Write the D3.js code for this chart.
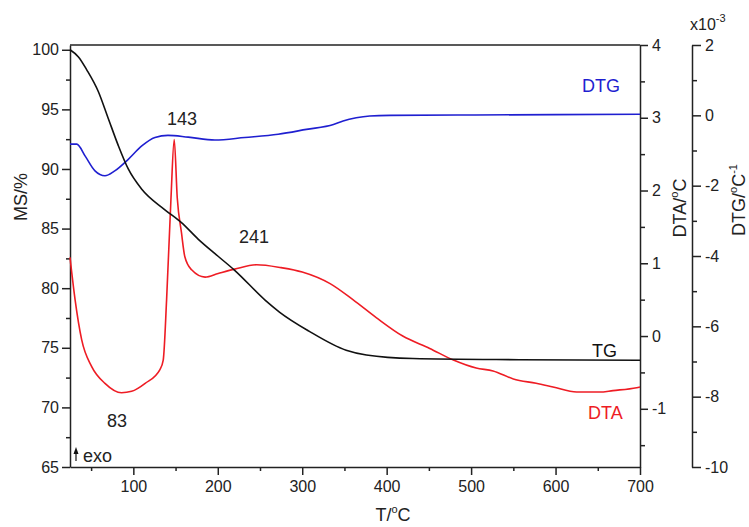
<!DOCTYPE html>
<html>
<head>
<meta charset="utf-8">
<script src="https://cdn.jsdelivr.net/npm/d3@7"></script>
<style>
  body { margin: 0; background: #fff; }
  svg { font-family: "Liberation Sans", Arial, sans-serif; }
  .tick text { font-size: 16px; fill: #222; }
  .domain, .tick line { stroke: #222; stroke-width: 1.5; }
</style>
</head>
<body>
<div id="chart"></div>
<script>
// TG curve (mass, %)
const tgT = [25, 35, 45, 58.5, 70, 82, 94, 110, 137, 157, 177, 200, 220, 256, 273, 308, 352, 376, 431, 557, 700];
const tgV = [100, 99.4, 98.3, 96.5, 94.3, 92.0, 90.0, 88.3, 86.6, 85.5, 84.1, 82.7, 81.5, 79.0, 78.0, 76.4, 74.8, 74.4, 74.1, 74.0, 73.95];

// DTA curve (°C)
const dtaT = [25, 31, 38.8, 50.7, 66.4, 86, 98, 114, 131.5, 135.4, 139.4, 144.5, 148.4, 152, 157, 161, 169, 185, 200.5, 220, 246, 275, 300, 333, 360, 388, 419, 451, 479, 506, 526, 550, 577, 597, 625, 652, 668, 696, 700];
const dtaV = [1.08, 0.5, -0.05, -0.42, -0.65, -0.78, -0.76, -0.65, -0.46, -0.33, 0.5, 1.87, 2.70, 1.9, 1.42, 1.09, 0.91, 0.81, 0.86, 0.92, 0.98, 0.94, 0.88, 0.72, 0.50, 0.25, 0.0, -0.17, -0.33, -0.44, -0.48, -0.59, -0.65, -0.70, -0.77, -0.77, -0.75, -0.71, -0.70];

// DTG curve (x10^-3 /°C)
const dtgT = [25, 33, 43, 54.6, 66.4, 78, 94, 110, 125.6, 141, 165, 196.6, 232, 271.5, 305, 337, 348.4, 364, 380, 404, 500, 600, 700];
const dtgV = [-0.82, -0.82, -1.16, -1.58, -1.72, -1.58, -1.25, -0.87, -0.63, -0.57, -0.62, -0.70, -0.63, -0.54, -0.40, -0.26, -0.16, -0.07, -0.02, 0, 0.01, 0.02, 0.03];

const xTicks = [100, 200, 300, 400, 500, 600, 700];
const msTicks = [65, 70, 75, 80, 85, 90, 95, 100];
const dtaTicks = [-1, 0, 1, 2, 3, 4];
const dtgTicks = [-10, -8, -6, -4, -2, 0, 2];

const width = 749, height = 527;
const pLeft = 70, pRight = 640, pTop = 45, pBottom = 467, dtgX = 692;

const svg = d3.select("#chart").append("svg")
    .attr("width", width)
    .attr("height", height);

const x = d3.scaleLinear().domain([25, 700]).range([pLeft, pRight]);
const yMS = d3.scaleLinear().domain([65, 100.4]).range([pBottom, pTop]);
const yDTA = d3.scaleLinear().domain([-1.8, 4]).range([pBottom, pTop]);
const yDTG = d3.scaleLinear().domain([-10, 2]).range([pBottom, pTop]);

const fmt = d => String(d);

// minor ticks
function minor(g) { g.select(".domain").remove(); g.selectAll("text").remove(); }

svg.append("g").attr("transform", `translate(0,${pBottom})`)
    .call(d3.axisBottom(x).tickValues(d3.range(50, 700, 100)).tickSize(4).tickFormat(""))
    .call(minor);
svg.append("g").attr("transform", `translate(${pLeft},0)`)
    .call(d3.axisLeft(yMS).tickValues(d3.range(67.5, 100, 5)).tickSize(4).tickFormat(""))
    .call(minor);
svg.append("g").attr("transform", `translate(${pRight},0)`)
    .call(d3.axisRight(yDTA).tickValues(d3.range(-1.5, 4, 1)).tickSize(5).tickFormat(""))
    .call(minor);
svg.append("g").attr("transform", `translate(${dtgX},0)`)
    .call(d3.axisRight(yDTG).tickValues(d3.range(-9, 2, 2)).tickSize(5).tickFormat(""))
    .call(minor);

// major axes
svg.append("g").attr("transform", `translate(0,${pBottom})`)
    .call(d3.axisBottom(x).tickValues(xTicks).tickFormat(fmt).tickSize(8).tickSizeOuter(0).tickPadding(6));
svg.append("g").attr("transform", `translate(${pLeft},0)`)
    .call(d3.axisLeft(yMS).tickValues(msTicks).tickFormat(fmt).tickSize(8).tickSizeOuter(0).tickPadding(3));
svg.append("g").attr("transform", `translate(${pRight},0)`)
    .call(d3.axisRight(yDTA).tickValues(dtaTicks).tickFormat(fmt).tickSize(8).tickSizeOuter(0).tickPadding(4));
svg.append("g").attr("transform", `translate(${dtgX},0)`)
    .call(d3.axisRight(yDTG).tickValues(dtgTicks).tickFormat(fmt).tickSize(9).tickSizeOuter(0).tickPadding(4));

// top frame
svg.append("line")
    .attr("x1", pLeft).attr("x2", pRight).attr("y1", pTop).attr("y2", pTop)
    .attr("stroke", "#222").attr("stroke-width", 1.5);

function drawLine(ts, vs, y, color) {
    const pts = ts.map((t, i) => [t, vs[i]]);
    svg.append("path")
        .datum(pts)
        .attr("fill", "none")
        .attr("stroke", color)
        .attr("stroke-width", 1.6)
        .attr("d", d3.line().x(d => x(d[0])).y(d => y(d[1])).curve(d3.curveMonotoneX));
}

drawLine(dtgT, dtgV, yDTG, "#1f1fd0");
drawLine(dtaT, dtaV, yDTA, "#ee1c24");
drawLine(tgT, tgV, yMS, "#111");

// axis titles
svg.append("text")
    .attr("transform", "translate(22,197) rotate(-90)")
    .attr("text-anchor", "middle").attr("dominant-baseline", "middle")
    .attr("font-size", 18).attr("fill", "#222")
    .text("MS/%");

const tx = svg.append("text")
    .attr("x", 393).attr("y", 521)
    .attr("text-anchor", "middle")
    .attr("font-size", 18).attr("fill", "#222");
tx.append("tspan").text("T/");
tx.append("tspan").attr("font-size", 11).attr("dy", -8).text("o");
tx.append("tspan").attr("dy", 8).text("C");

const ta = svg.append("text")
    .attr("transform", "translate(686,208) rotate(-90)")
    .attr("text-anchor", "middle")
    .attr("font-size", 18).attr("fill", "#222");
ta.append("tspan").text("DTA/");
ta.append("tspan").attr("font-size", 11).attr("dy", -8).text("o");
ta.append("tspan").attr("dy", 8).text("C");

const tg = svg.append("text")
    .attr("transform", "translate(745,200) rotate(-90)")
    .attr("text-anchor", "middle")
    .attr("font-size", 18).attr("fill", "#222");
tg.append("tspan").text("DTG/");
tg.append("tspan").attr("font-size", 11).attr("dy", -8).text("o");
tg.append("tspan").attr("dy", 8).text("C");
tg.append("tspan").attr("font-size", 11).attr("dy", -8).text("-1");

const sc = svg.append("text")
    .attr("x", 690).attr("y", 30)
    .attr("font-size", 16).attr("fill", "#222");
sc.append("tspan").text("x10");
sc.append("tspan").attr("font-size", 11).attr("dy", -8).text("-3");

// annotations
const notes = [
    { t: "143", x: 182, y: 125, c: "#222", a: "middle" },
    { t: "241", x: 254, y: 243, c: "#222", a: "middle" },
    { t: "83", x: 117, y: 427, c: "#222", a: "middle" },
    { t: "exo", x: 83, y: 462, c: "#222", a: "start" },
    { t: "DTG", x: 582, y: 92, c: "#1f1fd0", a: "start" },
    { t: "TG", x: 592, y: 357, c: "#111", a: "start" },
    { t: "DTA", x: 588, y: 419, c: "#ee1c24", a: "start" }
];
svg.selectAll(".note").data(notes).enter().append("text")
    .attr("class", "note")
    .attr("x", d => d.x).attr("y", d => d.y)
    .attr("text-anchor", d => d.a)
    .attr("font-size", 18)
    .attr("fill", d => d.c)
    .text(d => d.t);

// exo arrow
svg.append("line")
    .attr("x1", 76).attr("x2", 76).attr("y1", 453).attr("y2", 461)
    .attr("stroke", "#111").attr("stroke-width", 1.2);
svg.append("path")
    .attr("d", "M76,447 L73.5,454 L78.5,454 Z")
    .attr("fill", "#111");
</script>
</body>
</html>
